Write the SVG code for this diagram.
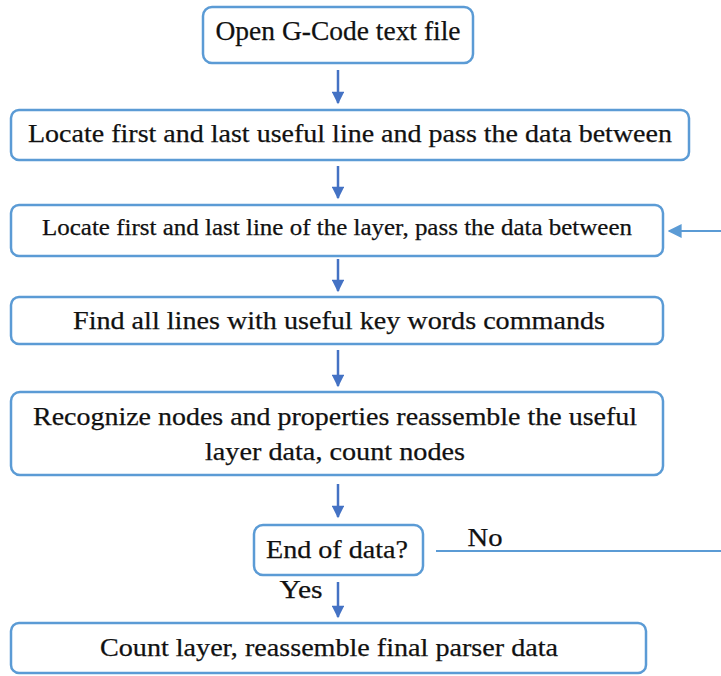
<svg xmlns="http://www.w3.org/2000/svg" width="721" height="676" viewBox="0 0 721 676">
<defs>
<style>
.box{fill:#fff;stroke:#5B9BD5;stroke-width:2.5}
.t{fill:#111;text-anchor:middle;stroke:#111;stroke-width:0.25}
.arr{stroke:#4472C4;stroke-width:2.5;fill:none}
.loop{stroke:#5B9BD5;stroke-width:2;fill:none}
</style>
<marker id="ah" viewBox="0 0 10 10" refX="9" refY="5" markerWidth="5.5" markerHeight="5" orient="auto" markerUnits="strokeWidth">
<path d="M0,0 L10,5 L0,10 z" fill="#4472C4"/>
</marker>
<marker id="ah2" viewBox="0 0 10 10" refX="9" refY="5" markerWidth="7" markerHeight="7" orient="auto" markerUnits="strokeWidth">
<path d="M0,0 L10,5 L0,10 z" fill="#5B9BD5"/>
</marker>
</defs>
<g id="n1">
<rect class="box" x="203" y="7" width="270" height="56" rx="9"/>
<text class="t" x="338" y="40" font-size="28" font-family="Liberation Serif, serif" textLength="245" lengthAdjust="spacingAndGlyphs">Open G-Code text file</text>
</g>
<g id="n2">
<rect class="box" x="11" y="110" width="678" height="50" rx="8"/>
<text class="t" x="350" y="142" font-size="26" font-family="Liberation Serif, serif" textLength="644" lengthAdjust="spacingAndGlyphs">Locate first and last useful line and pass the data between</text>
</g>
<g id="n3">
<rect class="box" x="11" y="205" width="652" height="51" rx="8"/>
<text class="t" x="337" y="235" font-size="23" font-family="Liberation Serif, serif" textLength="590" lengthAdjust="spacingAndGlyphs">Locate first and last line of the layer, pass the data between</text>
</g>
<g id="n4">
<rect class="box" x="11" y="297" width="652" height="47" rx="8"/>
<text class="t" x="339" y="329" font-size="26" font-family="Liberation Serif, serif" textLength="532" lengthAdjust="spacingAndGlyphs">Find all lines with useful key words commands</text>
</g>
<g id="n5">
<rect class="box" x="11" y="392" width="652" height="83" rx="9"/>
<text class="t" x="335" y="425" font-size="26" font-family="Liberation Serif, serif" textLength="604" lengthAdjust="spacingAndGlyphs">Recognize nodes and properties reassemble the useful</text>
<text class="t" x="335" y="460" font-size="25" font-family="Liberation Serif, serif" textLength="260" lengthAdjust="spacingAndGlyphs">layer data, count nodes</text>
</g>
<g id="n6">
<rect class="box" x="254" y="525" width="169" height="50" rx="9"/>
<text class="t" x="337" y="558" font-size="26" font-family="Liberation Serif, serif" textLength="142" lengthAdjust="spacingAndGlyphs">End of data?</text>
</g>
<g id="n7">
<rect class="box" x="11" y="623" width="635" height="50" rx="8"/>
<text class="t" x="329" y="656" font-size="26" font-family="Liberation Serif, serif" textLength="458" lengthAdjust="spacingAndGlyphs">Count layer, reassemble final parser data</text>
</g>
<g id="connectors">
<line class="arr" x1="338" y1="70" x2="338" y2="103" marker-end="url(#ah)"/>
<line class="arr" x1="338" y1="166" x2="338" y2="198" marker-end="url(#ah)"/>
<line class="arr" x1="338" y1="259" x2="338" y2="291" marker-end="url(#ah)"/>
<line class="arr" x1="338" y1="350" x2="338" y2="386" marker-end="url(#ah)"/>
<line class="arr" x1="338" y1="484" x2="338" y2="517" marker-end="url(#ah)"/>
<line class="arr" x1="338" y1="582" x2="338" y2="617" marker-end="url(#ah)"/>
<line class="loop" x1="436" y1="551" x2="721" y2="551"/>
<line class="loop" x1="721" y1="231" x2="669" y2="231" marker-end="url(#ah2)"/>
<text class="t" x="485" y="546" font-size="25" font-family="Liberation Serif, serif" textLength="35" lengthAdjust="spacingAndGlyphs">No</text>
<text class="t" x="301" y="598" font-size="25" font-family="Liberation Serif, serif" textLength="43" lengthAdjust="spacingAndGlyphs">Yes</text>
</g>
</svg>
